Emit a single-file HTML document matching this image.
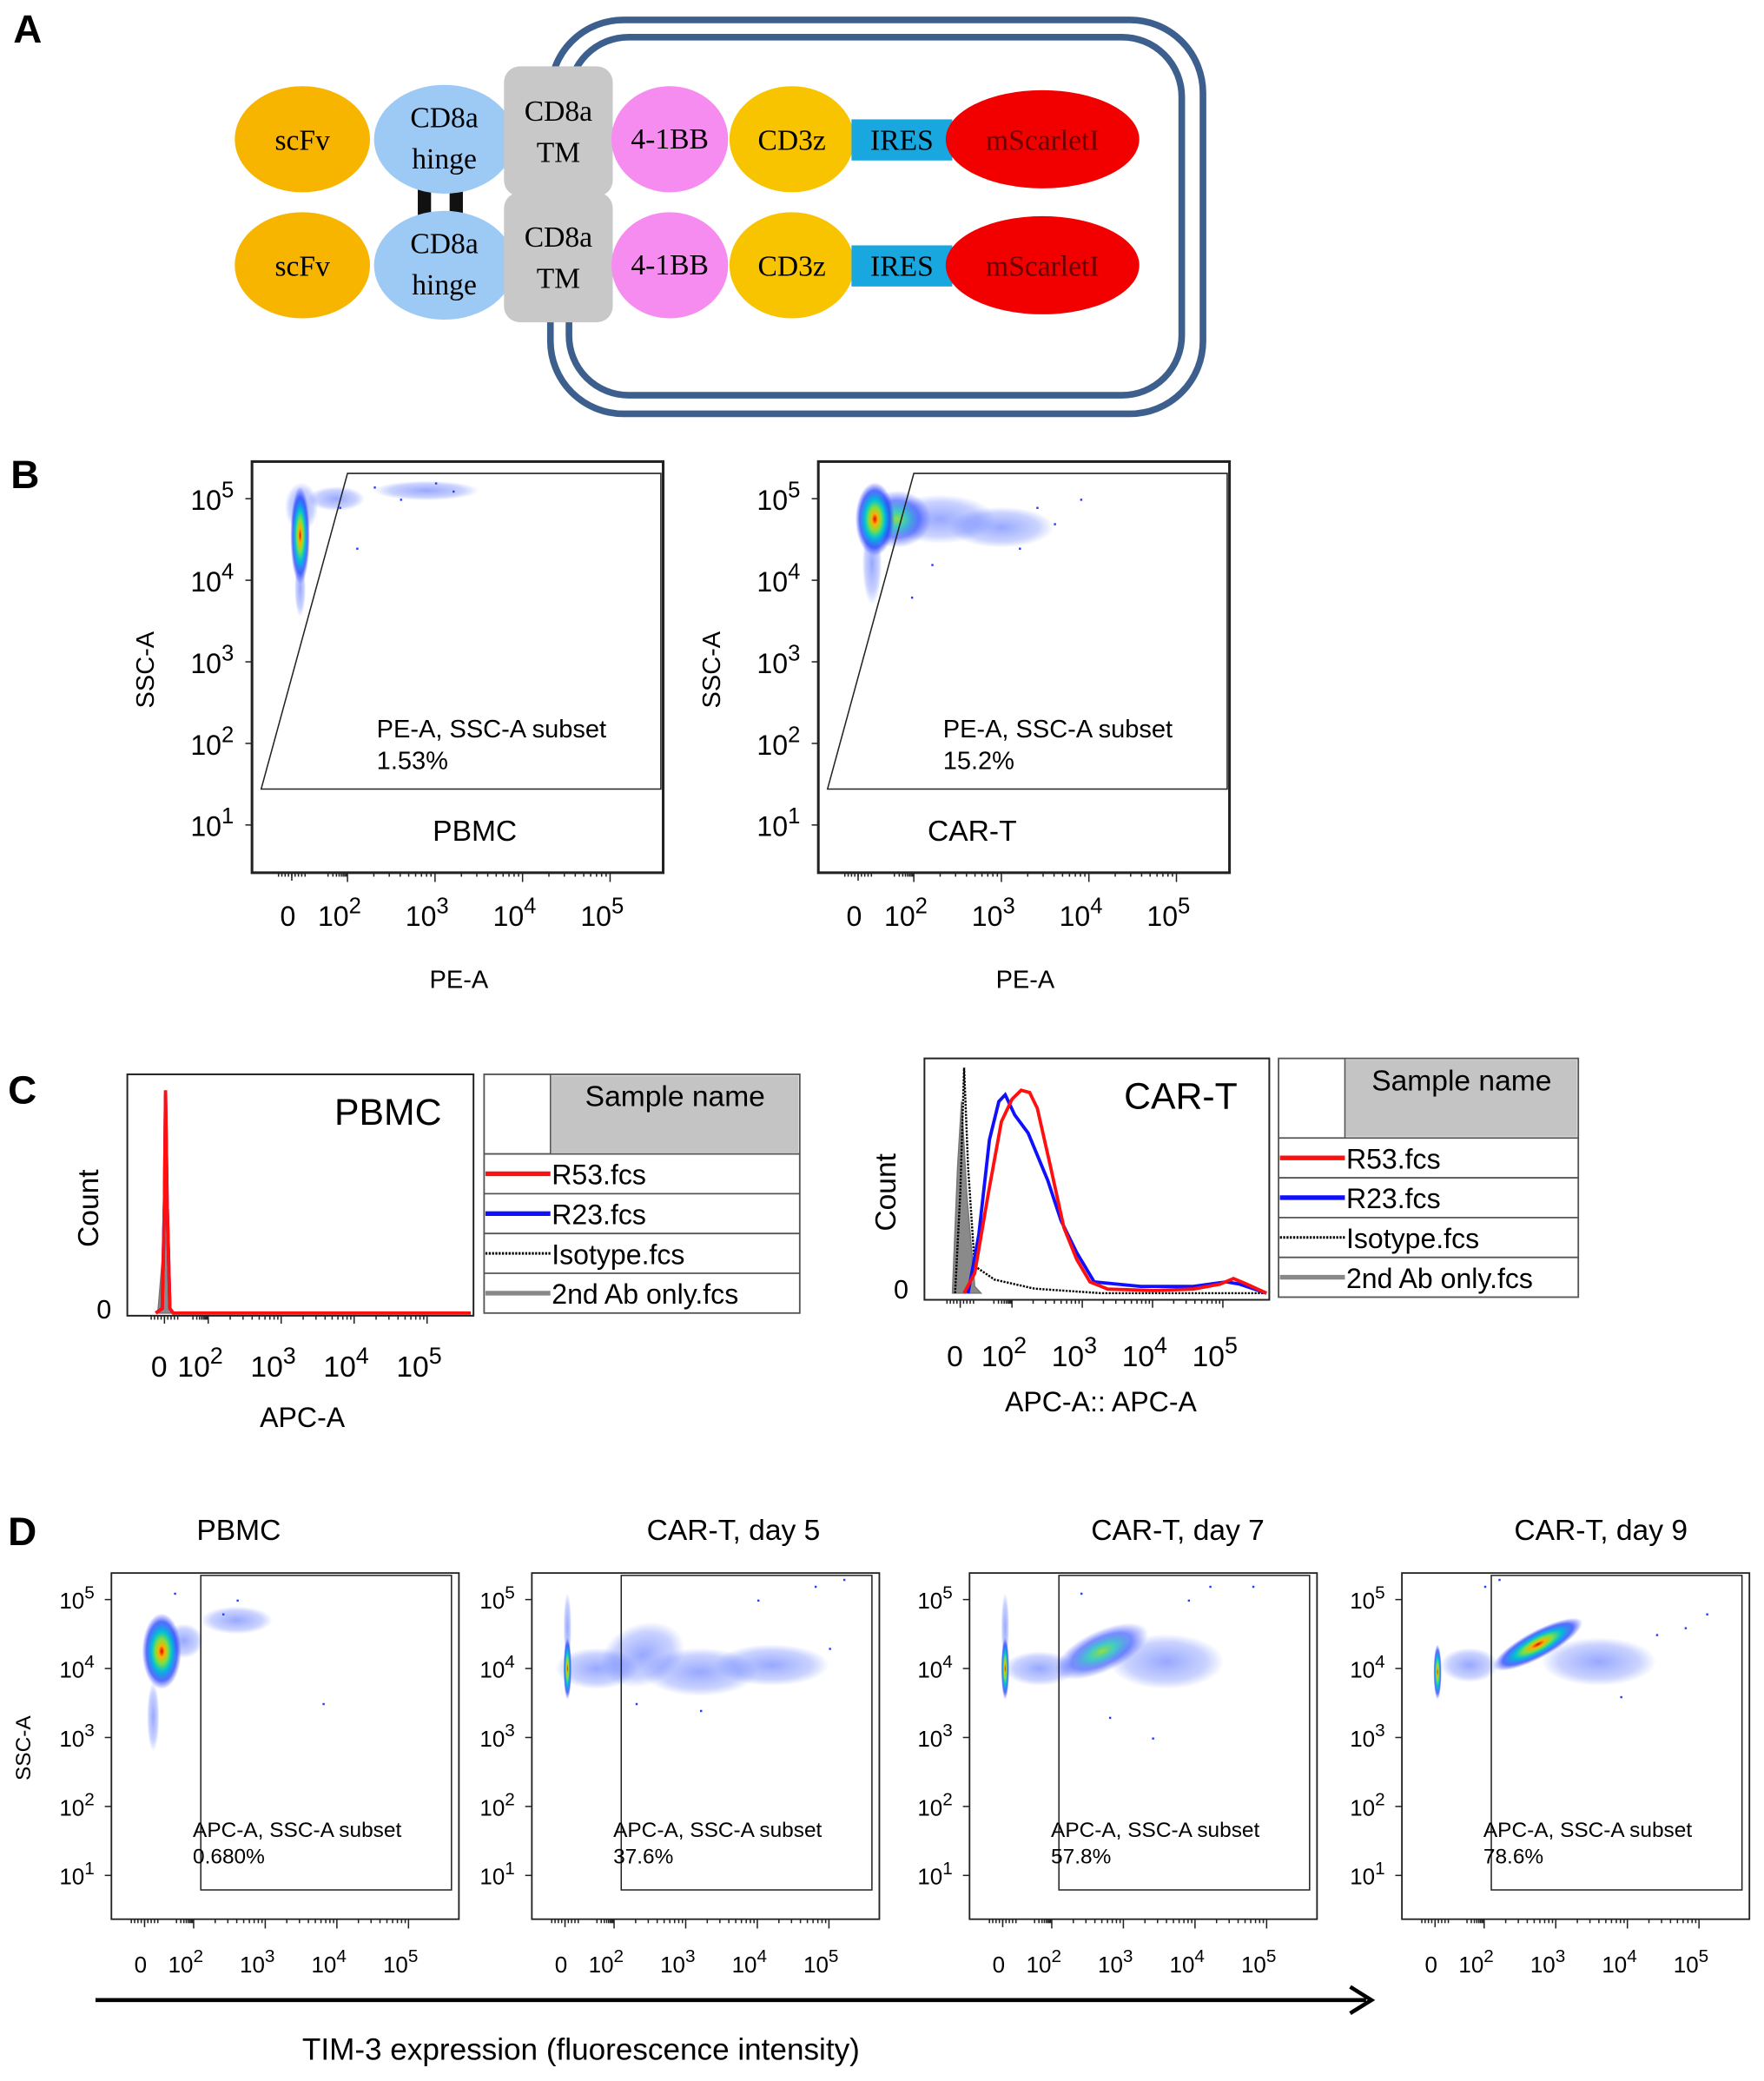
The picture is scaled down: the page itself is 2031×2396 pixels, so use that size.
<!DOCTYPE html>
<html><head><meta charset="utf-8"><style>
html,body{margin:0;padding:0;background:#fff}
svg{display:block}
text{font-family:"Liberation Sans",Arial,sans-serif}
.ser{font-family:"Liberation Serif","Times New Roman",serif}
</style></head><body>
<svg id="fig" xmlns="http://www.w3.org/2000/svg" width="2031" height="2396" viewBox="0 0 1330 1569" preserveAspectRatio="none">
<defs>
<radialGradient id="dens">
<stop offset="0" stop-color="#e00000"/><stop offset="0.15" stop-color="#ffb000"/><stop offset="0.32" stop-color="#7fe040"/><stop offset="0.52" stop-color="#00c0d8"/><stop offset="0.78" stop-color="#1f3cff" stop-opacity="0.75"/><stop offset="1" stop-color="#3040ff" stop-opacity="0"/>
</radialGradient>
<radialGradient id="mid">
<stop offset="0" stop-color="#90e040"/><stop offset="0.3" stop-color="#20c0c0" stop-opacity="0.85"/><stop offset="0.65" stop-color="#2040ff" stop-opacity="0.6"/><stop offset="1" stop-color="#3040ff" stop-opacity="0"/>
</radialGradient>
<radialGradient id="sparse">
<stop offset="0" stop-color="#3050ff" stop-opacity="0.5"/><stop offset="0.7" stop-color="#4060ff" stop-opacity="0.28"/><stop offset="1" stop-color="#4060ff" stop-opacity="0"/>
</radialGradient>
</defs>
<g id="panelA">
<text x="10" y="32" font-size="30" font-weight="bold">A</text>
<rect x="415" y="15" width="492" height="297" rx="55" fill="none" stroke="#3d5f8d" stroke-width="5"/>
<rect x="429" y="28" width="462" height="270" rx="45" fill="none" stroke="#3d5f8d" stroke-width="5"/>
<rect x="315" y="142" width="10" height="24" fill="#111"/>
<rect x="339" y="142" width="10" height="24" fill="#111"/>
<g class="ser" id="rows"></g>
</g>
<g id="charts"></g>
</svg>
<script>
const NS='http://www.w3.org/2000/svg';
function mk(tag,attrs,parent,txt){const e=document.createElementNS(NS,tag);for(const k in attrs)e.setAttribute(k,attrs[k]);if(txt!==undefined)e.textContent=txt;(parent||document.getElementById('charts')).appendChild(e);return e;}

// ---- Panel A rows ----
const rowY=[105,200];
const rowsG=document.getElementById('rows');
rowY.forEach((cy,i)=>{
 let e;
 e=mk('ellipse',{cx:228,cy:cy,rx:51,ry:40,fill:'#f7b500'},rowsG);
 e=mk('text',{x:228,y:cy+8,'font-size':22,'text-anchor':'middle',class:'ser'},rowsG,'scFv');
 e=mk('ellipse',{cx:335,cy:cy,rx:53,ry:41,fill:'#9dcaf5'},rowsG);
 e=mk('text',{x:335,y:cy-9,'font-size':22,'text-anchor':'middle',class:'ser'},rowsG,'CD8a');
 e=mk('text',{x:335,y:cy+22,'font-size':22,'text-anchor':'middle',class:'ser'},rowsG,'hinge');
 e=mk('rect',{x:380,y:cy-55,width:82,height:98,rx:12,fill:'#c8c8c8'},rowsG);
 e=mk('text',{x:421,y:cy-14,'font-size':22,'text-anchor':'middle',class:'ser'},rowsG,'CD8a');
 e=mk('text',{x:421,y:cy+17,'font-size':22,'text-anchor':'middle',class:'ser'},rowsG,'TM');
 e=mk('ellipse',{cx:505,cy:cy,rx:44,ry:40,fill:'#f68cf0'},rowsG);
 e=mk('text',{x:505,y:cy+7,'font-size':22,'text-anchor':'middle',class:'ser'},rowsG,'4-1BB');
 e=mk('ellipse',{cx:597,cy:cy,rx:47,ry:40,fill:'#f8c400'},rowsG);
 e=mk('text',{x:597,y:cy+8,'font-size':22,'text-anchor':'middle',class:'ser'},rowsG,'CD3z');
 e=mk('rect',{x:642,y:cy-15,width:76,height:31,fill:'#19a7e0'},rowsG);
 e=mk('text',{x:680,y:cy+8,'font-size':22,'text-anchor':'middle',class:'ser'},rowsG,'IRES');
 e=mk('ellipse',{cx:786,cy:cy,rx:73,ry:37,fill:'#f20000'},rowsG);
 e=mk('text',{x:786,y:cy+8,'font-size':22,'text-anchor':'middle',fill:'#6a0000',class:'ser'},rowsG,'mScarletI');
});

// ---- shared tick data ----
const xTickDecades=[2,3,4,5];
const yTickDecades=[5,4,3,2,1];

function pow10(parent,x,y,exp,fs,name){
 const t=mk('text',{x:x,y:y,'font-size':fs,'text-anchor':'middle'},parent);
 
 
 mk('tspan',{},t,'10');mk('tspan',{dy:-fs*0.45,'font-size':fs*0.8},t,String(exp));
 return t;
}

// ---------- scatter plot (B & D) ----------
// clusters: axis units u (0 at "0", 2 = 10^2 ...), l = log10(SSC); kind d=dense, m=medium, s=sparse; angle in degrees
const bPbmcClU=[0.3,0.3,0.35,1.6,2.9];
const bPbmcClL=[4.55,3.9,4.9,5.0,5.1];
const bPbmcClRu=[0.35,0.2,0.6,0.7,0.6];
const bPbmcClRl=[0.6,0.35,0.3,0.15,0.12];
const bPbmcClKind=['d','s','s','s','s'];
const bPbmcClAng=[0,0,0,0,0];
const bCarClU=[0.6,0.5,1.4,2.3,3.0];
const bCarClL=[4.75,4.2,4.75,4.75,4.65];
const bCarClRu=[0.7,0.35,0.9,0.8,0.6];
const bCarClRl=[0.45,0.5,0.35,0.3,0.25];
const bCarClKind=['d','s','m','s','s'];
const bCarClAng=[0,0,0,0,0];
const dPbmcClU=[0.7,0.35,1.6,2.6];
const dPbmcClL=[4.25,3.3,4.4,4.7];
const dPbmcClRu=[0.8,0.25,0.6,0.5];
const dPbmcClRl=[0.55,0.5,0.25,0.2];
const dPbmcClKind=['d','s','s','s'];
const dPbmcClAng=[0,0,0,0];
const d5ClU=[0.1,0.1,1.3,2.4,3.2,4.2];
const d5ClL=[4.0,4.6,4.0,4.2,3.95,4.05];
const d5ClRu=[0.15,0.12,1.2,0.7,0.8,0.8];
const d5ClRl=[0.45,0.5,0.3,0.45,0.35,0.3];
const d5ClKind=['d','s','s','s','s','s'];
const d5ClAng=[0,0,0,-20,0,0];
const d7ClU=[0.1,0.1,1.5,2.7,3.6];
const d7ClL=[4.0,4.6,4.0,4.25,4.1];
const d7ClRu=[0.12,0.12,1.0,0.7,0.8];
const d7ClRl=[0.45,0.5,0.25,0.3,0.4];
const d7ClKind=['d','s','s','m','s'];
const d7ClAng=[0,0,0,-25,0];
const d9ClU=[0.1,1.4,2.75,3.6];
const d9ClL=[3.95,4.05,4.35,4.1];
const d9ClRu=[0.12,0.9,0.7,0.8];
const d9ClRl=[0.4,0.25,0.2,0.35];
const d9ClKind=['d','s','d','s'];
const d9ClAng=[0,0,-28,0];
// sparse outlier events
const bPbmcPtU=[2.3,2.6,3.0,3.2,2.1,1.7];
const bPbmcPtL=[5.15,5.0,5.2,5.1,4.4,4.9];
const bCarPtU=[3.4,3.6,3.9,3.2,2.2,1.9];
const bCarPtL=[4.9,4.7,5.0,4.4,4.2,3.8];
const dPbmcPtU=[2.4,2.6,3.8,1.2];
const dPbmcPtL=[4.8,5.0,3.5,5.1];
const d5PtU=[4.8,5.2,3.2,2.3,4.0,5.0];
const d5PtL=[5.2,5.3,3.4,3.5,5.0,4.3];
const d7PtU=[3.9,4.2,4.8,2.8,3.4,2.4];
const d7PtL=[5.0,5.2,5.2,3.3,3.0,5.1];
const d9PtU=[4.4,4.8,5.1,3.9,2.0,2.2];
const d9PtL=[4.5,4.6,4.8,3.6,5.2,5.3];

function scatter(o){
 const g=mk('g',{});
 
 
 const X=u=>u<2?o.x0+u*(o.x2-o.x0)/2:o.x2+(u-2)*o.dec;
 const Y=l=>o.y5-(l-5)*o.ydec;
 const clip='clip-'+o.name;
 const cp=mk('clipPath',{id:clip},g);mk('rect',{x:o.bx,y:o.by,width:o.bw,height:o.bh},cp);
 const dg=mk('g',{'clip-path':'url(#'+clip+')'},g);
 const fills={d:'url(#dens)',m:'url(#mid)',s:'url(#sparse)'};
 ['s','m','d'].forEach(kind=>{
  o.cu.forEach((u,i)=>{
   if(o.ck[i]!==kind)return;
   const rx=Math.max(3,(X(u+o.cru[i])-X(Math.max(u-o.cru[i],-0.5)))/2), ry=o.crl[i]*o.ydec;
   const cx=X(u),cy=Y(o.cl[i]);
   const e=mk('ellipse',{cx:cx,cy:cy,rx:rx,ry:ry,fill:fills[kind],transform:'rotate('+o.ca[i]+' '+cx+' '+cy+')'},dg);
   
   
  });
 });
 o.pu.forEach((u,i)=>{
  const p=mk('rect',{x:X(u),y:Y(o.pl[i]),width:1.6,height:1.6,fill:'#2a3cff'},dg);
  
  
 });
 const box=mk('rect',{x:o.bx,y:o.by,width:o.bw,height:o.bh,fill:'none',stroke:'#222','stroke-width':o.thick?2:1.2},g);
 
 
 const pts=o.gu.map((u,i)=>X(u)+','+Y(o.gl[i])).join(' ');
 const gate=mk('polygon',{points:pts,fill:'none',stroke:'#222','stroke-width':1},g);
 
 
 const ax=mk('g',{stroke:'#222','stroke-width':1},g);
 
 
 const yb=o.by+o.bh;
 mk('line',{x1:X(0),x2:X(0),y1:yb,y2:yb+6},ax);
 xTickDecades.forEach(d=>{mk('line',{x1:X(d),x2:X(d),y1:yb,y2:yb+7},ax);
  for(let m=2;m<10;m++){const v=d-1+Math.log10(m);if(v>=1)mk('line',{x1:X(v),x2:X(v),y1:yb,y2:yb+3},ax);}});
 for(let k=-4;k<=4;k++)mk('line',{x1:X(0)+k*2.5,x2:X(0)+k*2.5,y1:yb,y2:yb+3},ax);
 const ay=mk('g',{stroke:'#222','stroke-width':1},g);
 
 
 yTickDecades.forEach(d=>mk('line',{x1:o.bx-5,x2:o.bx,y1:Y(d),y2:Y(d)},ay));
 const fs=o.fs;
 const z=mk('text',{x:X(0)-3,y:yb+o.lx,'font-size':fs,'text-anchor':'middle'},g,'0');
 
 
 xTickDecades.forEach(d=>pow10(g,X(d)-6,yb+o.lx,d,fs,'x-tick-label'));
 yTickDecades.forEach(d=>pow10(g,o.bx-o.ly,Y(d)+fs*0.4,d,fs,'y-tick-label'));
 const gt=mk('text',{x:X(o.gu[1])+o.tdx,y:o.ty,'font-size':o.gfs},g,o.gtext);
 
 
 const gp=mk('text',{x:X(o.gu[1])+o.tdx,y:o.ty+o.gfs*1.25,'font-size':o.gfs},g,o.pct);
 
 
 return {g,X,Y};
}

// Panel B
let t;
t=mk('text',{x:8,y:368,'font-size':30,'font-weight':'bold'},undefined,'B');
const bGateU=[-1.1,2.0,5.58,5.58];
const bGateL=[1.44,5.31,5.31,1.44];
[[0,'pbmc',bPbmcClU,bPbmcClL,bPbmcClRu,bPbmcClRl,bPbmcClKind,bPbmcPtU,bPbmcPtL,'1.53%','PBMC',358,bPbmcClAng],
 [427,'car-t',bCarClU,bCarClL,bCarClRu,bCarClRl,bCarClKind,bCarPtU,bCarPtL,'15.2%','CAR-T',733,bCarClAng]].forEach(c=>{
 const s=c[0];
 const r=scatter({name:'scatter-b-'+c[1],bx:190+s,by:348,bw:310,bh:310,x0:220+s,x2:262+s,dec:66,y5:376,ydec:61.5,
  cu:c[2],cl:c[3],cru:c[4],crl:c[5],ck:c[6],ca:c[12],pu:c[7],pl:c[8],gu:bGateU,gl:bGateL,fs:21,lx:40,ly:30,
  gtext:'PE-A, SSC-A subset',pct:c[9],gfs:19,tdx:22,ty:556,thick:true});
 let e=mk('text',{x:c[11],y:634,'font-size':22,'text-anchor':'middle'},r.g,c[10]);
 e=mk('text',{x:346+s,y:745,'font-size':19,'text-anchor':'middle'},r.g,'PE-A');
 e=mk('text',{x:0,y:0,'font-size':19,'text-anchor':'middle',transform:'translate('+(116+s)+',505) rotate(-90)'},r.g,'SSC-A');
});

// Panel D
t=mk('text',{x:6,y:1165,'font-size':30,'font-weight':'bold'},undefined,'D');
const dGateU=[2.1,2.1,5.6,5.6];
const dGateL=[0.79,5.35,5.35,0.79];
const dTitles=['PBMC','CAR-T, day 5','CAR-T, day 7','CAR-T, day 9'];
const dPcts=['0.680%','37.6%','57.8%','78.6%'];
const dShift=[0,317,647,973];
const dCl=[[dPbmcClU,dPbmcClL,dPbmcClRu,dPbmcClRl,dPbmcClKind,dPbmcPtU,dPbmcPtL,dPbmcClAng],[d5ClU,d5ClL,d5ClRu,d5ClRl,d5ClKind,d5PtU,d5PtL,d5ClAng],[d7ClU,d7ClL,d7ClRu,d7ClRl,d7ClKind,d7PtU,d7PtL,d7ClAng],[d9ClU,d9ClL,d9ClRu,d9ClRl,d9ClKind,d9PtU,d9PtL,d9ClAng]];
dTitles.forEach((ti,i)=>{
 const s=dShift[i],c=dCl[i];
 const r=scatter({name:'scatter-d-'+(i+1),bx:84+s,by:1186,bw:262,bh:261,x0:109+s,x2:146+s,dec:54,y5:1206,ydec:52,
  cu:c[0],cl:c[1],cru:c[2],crl:c[3],ck:c[4],ca:c[7],pu:c[5],pl:c[6],gu:dGateU,gl:dGateL,fs:17,lx:40,ly:26,
  gtext:'APC-A, SSC-A subset',pct:dPcts[i],gfs:16,tdx:-6,ty:1385,thick:false});
 const e=mk('text',{x:[180,553,888,1207][i],y:1161,'font-size':22,'text-anchor':'middle'},r.g,ti);
});
t=mk('text',{x:0,y:0,'font-size':16,'text-anchor':'middle',transform:'translate(23,1318) rotate(-90)'},undefined,'SSC-A');
t=mk('line',{x1:72,y1:1508,x2:1030,y2:1508,stroke:'#000','stroke-width':3});
t=mk('polyline',{points:'1018,1498 1034,1508 1018,1518',fill:'none',stroke:'#000','stroke-width':3});
t=mk('text',{x:438,y:1553,'font-size':23,'text-anchor':'middle'},undefined,'TIM-3 expression (fluorescence intensity)');

// ---------- Panel C histograms ----------
t=mk('text',{x:6,y:832,'font-size':30,'font-weight':'bold'},undefined,'C');
const legendLabels=['R53.fcs','R23.fcs','Isotype.fcs','2nd Ab only.fcs'];
const pbmcRedU=[-0.4,-0.1,0.0,0.05,0.12,0.25,0.4,5.6];
const pbmcRedF=[0,0.02,0.5,1.0,0.5,0.02,0,0];
const pbmcBlueU=[-0.4,-0.1,0.0,0.05,0.12,0.25,0.4];
const pbmcBlueF=[0,0.02,0.5,0.98,0.5,0.02,0];
const pbmcGrayU=[-0.3,-0.05,0.02,0.06,0.15,0.3];
const pbmcGrayF=[0,0.3,0.8,0.9,0.3,0];
const carRedU=[0.15,0.56,1.08,1.59,2.0,2.13,2.25,2.36,2.55,2.74,2.92,3.11,3.36,4.02,4.58,4.96,5.15,5.34,5.62];
const carRedF=[0,0.088,0.44,0.76,0.86,0.9,0.89,0.82,0.56,0.29,0.15,0.05,0.018,0.012,0.018,0.04,0.065,0.04,0];
const carBlueU=[0.3,0.72,1.13,1.49,1.74,2.04,2.23,2.51,2.7,2.92,3.17,3.83,4.58,5.05,5.24,5.62];
const carBlueF=[0,0.26,0.68,0.85,0.88,0.79,0.71,0.5,0.32,0.18,0.05,0.03,0.03,0.05,0.04,0];
const carIsoU=[-0.2,0.0,0.15,0.3,0.56,1.33,2.32,3.26,5.6];
const carIsoF=[0,0.44,1.0,0.56,0.12,0.06,0.02,0,0];
const carGrayU=[-0.3,-0.1,0.05,0.25,0.56,0.8];
const carGrayF=[0,0.56,0.85,0.44,0.03,0];

function hist(o){
 const g=mk('g',{});
 
 
 const X=u=>u<2?o.x0+u*(o.x2-o.x0)/2:o.x2+(u-2)*o.dec;
 const Y=f=>o.base-f*o.hpx;
 const path=(U,F)=>U.map((u,i)=>(i?'L':'M')+X(u).toFixed(1)+','+Y(F[i]).toFixed(1)).join(' ');
 let e=mk('path',{d:path(o.gu,o.gf)+' Z',fill:'#8a8a8a',stroke:'#777','stroke-width':1},g);
 if(o.iu){e=mk('path',{d:path(o.iu,o.if),fill:'none',stroke:'#000','stroke-width':1.6,'stroke-dasharray':'1.5,1'},g);}
 e=mk('path',{d:path(o.bu,o.bf),fill:'none',stroke:'#1010ff','stroke-width':2.5},g);
 e=mk('path',{d:path(o.ru,o.rf),fill:'none',stroke:'#ff1010','stroke-width':2.5},g);
 e=mk('rect',{x:o.bx,y:o.by,width:o.bw,height:o.bh,fill:'none',stroke:'#222','stroke-width':1.3},g);
 const ax=mk('g',{stroke:'#222','stroke-width':1},g);
 
 
 const yb=o.by+o.bh;
 xTickDecades.forEach(d=>{mk('line',{x1:X(d),x2:X(d),y1:yb,y2:yb+6},ax);
  for(let m=2;m<10;m++){const v=d-1+Math.log10(m);if(v>=1)mk('line',{x1:X(v),x2:X(v),y1:yb,y2:yb+3},ax);}});
 for(let k=-4;k<=4;k++)mk('line',{x1:X(0)+k*2.5,x2:X(0)+k*2.5,y1:yb,y2:yb+3},ax);
 mk('line',{x1:X(0),x2:X(0),y1:yb,y2:yb+6},ax);
 e=mk('text',{x:X(0)-4,y:yb+o.lx,'font-size':22,'text-anchor':'middle'},g,'0');
 xTickDecades.forEach(d=>pow10(g,X(d)-6,yb+o.lx,d,22,'x-tick-label'));
 e=mk('text',{x:o.bx-12,y:o.base+4,'font-size':20,'text-anchor':'end'},g,'0');
 e=mk('text',{x:0,y:0,'font-size':22,'text-anchor':'middle',transform:'translate('+(o.bx-22)+','+(o.by+o.bh/2+10)+') rotate(-90)'},g,'Count');
 e=mk('text',{x:o.bx+o.bw-24,y:o.by+38,'font-size':28,'text-anchor':'end'},g,o.title);
 e=mk('text',{x:o.axx,y:o.axy,'font-size':21,'text-anchor':'middle'},g,o.axt);
 const L=mk('g',{},g);
 
 
 const lx=o.lgx,ly=o.lgy,lw=o.lgw;
 mk('rect',{x:lx,y:ly,width:lw,height:60+4*30,fill:'#fff',stroke:'#555','stroke-width':1.2},L);
 mk('rect',{x:lx+50,y:ly+1,width:lw-51,height:58,fill:'#c4c4c4'},L);
 mk('line',{x1:lx+50,x2:lx+50,y1:ly,y2:ly+60,stroke:'#555'},L);
 e=mk('text',{x:lx+50+(lw-50)/2,y:ly+24,'font-size':22,'text-anchor':'middle'},L,'Sample name');
 const sty=[['#ff1010',3.5,''],['#1010ff',3.5,''],['#000',2,'1.5,1'],['#888',3.5,'']];
 legendLabels.forEach((lb,i)=>{
  const yy=ly+60+i*30;
  mk('line',{x1:lx,x2:lx+lw,y1:yy,y2:yy,stroke:'#555','stroke-width':1.2},L);
  const ln=mk('line',{x1:lx+1,x2:lx+50,y1:yy+15,y2:yy+15,stroke:sty[i][0],'stroke-width':sty[i][1],'stroke-dasharray':sty[i][2]||'none'},L);
  
  
  const tx=mk('text',{x:lx+51,y:yy+23,'font-size':21},L,lb);
  
  
 });
}
hist({name:'histogram-c-pbmc',bx:96,by:810,bw:261,bh:182,x0:124,x2:157,dec:55,base:990,hpx:168,
 ru:pbmcRedU,rf:pbmcRedF,bu:pbmcBlueU,bf:pbmcBlueF,gu:pbmcGrayU,gf:pbmcGrayF,iu:null,
 lx:46,title:'PBMC',axt:'APC-A',axx:228,axy:1076,lgx:365,lgy:810,lgw:238});
hist({name:'histogram-c-car-t',bx:697,by:798,bw:260,bh:182,x0:724,x2:763,dec:53,base:975,hpx:170,
 ru:carRedU,rf:carRedF,bu:carBlueU,bf:carBlueF,gu:carGrayU,gf:carGrayF,iu:carIsoU,if:carIsoF,
 lx:50,title:'CAR-T',axt:'APC-A:: APC-A',axx:830,axy:1064,lgx:964,lgy:798,lgw:226});
</script>
</body></html>
